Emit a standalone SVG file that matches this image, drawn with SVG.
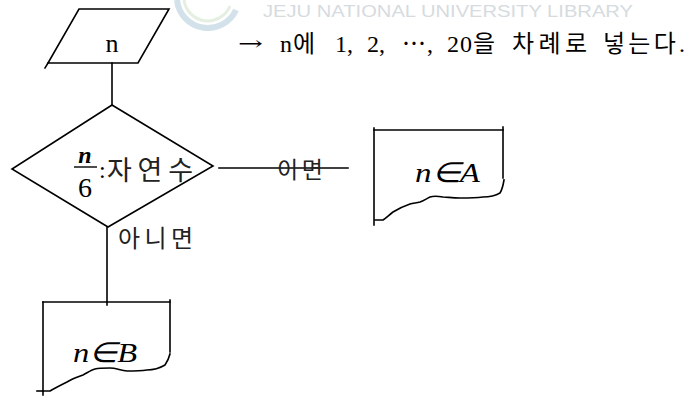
<svg xmlns="http://www.w3.org/2000/svg" width="693" height="396" viewBox="0 0 693 396">
<style>
.s{fill:none;stroke:#000;stroke-width:1.6;stroke-linecap:square;stroke-linejoin:miter}
.t{font-family:"Liberation Serif","Noto Sans CJK KR",serif;fill:#000}
.k{font-family:"Noto Sans CJK KR","Liberation Serif",sans-serif;fill:#222}
.m{font-family:"Liberation Serif",serif;font-style:italic;fill:#000}
.wm{font-family:"Liberation Sans",sans-serif;fill:#d6dbe0}
</style>
<rect width="693" height="396" fill="#fff"/>
<g id="watermark">
<path d="M177,0 A31,31 0 0 0 236,10" fill="none" stroke="#d3e2ea" stroke-width="6"/>
<path d="M184,0 A24,24 0 0 0 230,6" fill="none" stroke="#e4efe2" stroke-width="3"/>
<text class="wm" x="263" y="17" font-size="17" textLength="370" lengthAdjust="spacingAndGlyphs">JEJU NATIONAL UNIVERSITY  LIBRARY</text>
</g>
<g id="input">
<path class="s" d="M79,9 L169,9 L138,63 L48,63 Z"/>
<path class="s" d="M48,63 L45,68"/>
<text class="t" x="112" y="52" font-size="26" text-anchor="middle">n</text>
</g>
<text id="note" class="t" y="52" font-size="24"><tspan x="238" y="50" font-family="DejaVu Serif" font-size="20" textLength="25" lengthAdjust="spacingAndGlyphs">→</tspan><tspan x="280" y="52" textLength="35">n에</tspan><tspan x="335">1,</tspan><tspan x="367">2,</tspan><tspan x="402" textLength="31">⋯,</tspan><tspan x="447" textLength="48">20을</tspan><tspan x="512" textLength="75">차례로</tspan><tspan x="603" textLength="82">넣는다.</tspan></text>
<g id="decision">
<path class="s" d="M112,105 L213,166 L108,227 L12,169 Z"/>
<text class="m" x="85" y="163" font-size="24" font-weight="bold" text-anchor="middle">n</text>
<line x1="74" y1="167" x2="97" y2="167" stroke="#000" stroke-width="1.4"/>
<text class="t" x="85" y="197" font-size="28" text-anchor="middle">6</text>
<text class="t" x="99" y="178" font-size="24">:</text>
<text class="k" x="107" y="180" font-size="27" textLength="86" lengthAdjust="spacing">자연수</text>
</g>
<g id="connectors">
<line class="s" x1="112" y1="63" x2="112" y2="105"/>
<line class="s" x1="219" y1="168" x2="348" y2="168"/>
<line class="s" x1="107" y1="227" x2="107" y2="305"/>
</g>
<g id="labels">
<text class="k" x="277" y="178" font-size="23" textLength="46" lengthAdjust="spacing">이면</text>
<text class="k" x="118" y="247" font-size="24" textLength="75" lengthAdjust="spacing">아니면</text>
</g>
<g id="boxA">
<path class="s" d="M374,128 L374,225"/>
<path class="s" d="M374,130 L503,130"/>
<path class="s" d="M503,127 L503,178"/>
<path class="s" d="M504,180 C503,186 502,190 500,193 C495,196 490,197 483,197 C475,198 466,198 460,198 C452,198 447,197 443,197 C437,196 433,196 430,197 C426,199 423,201 420,202 C416,203 413,203 410,204 C404,206 398,209 393,212 C389,215 386,218 383,220 L375,220"/>
<text class="m" x="415" y="182" font-size="28" textLength="65" lengthAdjust="spacingAndGlyphs">n∈A</text>
</g>
<g id="boxB">
<path class="s" d="M43,302 L43,395"/>
<path class="s" d="M43,302 L170,302"/>
<path class="s" d="M170,300 L170,352"/>
<path class="s" d="M170,354 C169,358 167,362 165,365 C160,368 153,370 147,370 C140,371 133,371 127,371 C120,370 115,368 110,368 C104,368 99,368 95,369 C91,370 87,373 83,375 C78,377 72,379 67,382 C61,385 55,388 50,391 L43,391"/>
<path class="s" d="M43,391 L37,391"/>
<text class="m" x="73" y="362" font-size="28" textLength="64" lengthAdjust="spacingAndGlyphs">n∈B</text>
</g>
</svg>
